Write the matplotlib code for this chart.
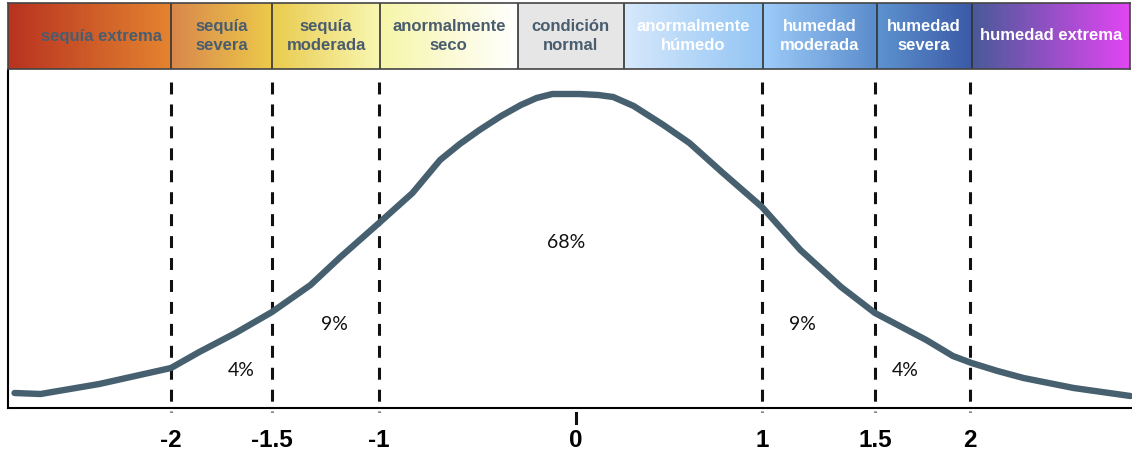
import numpy as np
import matplotlib
matplotlib.use('Agg')
import matplotlib.pyplot as plt
from matplotlib.colors import LinearSegmentedColormap

plt.rcParams['lines.scale_dashes'] = False

# data ###############################################################
thresholds = [-2, -1.5, -1, 1, 1.5, 2]
tick_vals = [-2, -1.5, -1, 0, 1, 1.5, 2]
tick_labels = ['-2', '-1.5', '-1', '0', '1', '1.5', '2']

# hand drawn distribution curve (SPI value, relative height)
curve_x = [-2.96, -2.80, -2.44, -2.00, -1.86, -1.68, -1.50, -1.32, -1.18, -1.00,
           -0.83, -0.69, -0.59, -0.49, -0.38, -0.28, -0.20, -0.12, 0.02, 0.12,
           0.20, 0.31, 0.47, 0.61, 0.79, 1.00, 1.17, 1.35, 1.50, 1.64,
           1.77, 1.91, 2.01, 2.17, 2.33, 2.64, 2.99]
curve_y = [15, 14, 24, 40, 56, 75, 96, 123, 151, 185,
           215, 248, 264, 278, 292, 303, 310, 314, 314, 313,
           311, 302, 283, 265, 235, 201, 158, 121, 95, 81,
           68, 52, 45, 37, 30, 20, 12]

# category header
cat_edges = [-3, -2, -1.5, -1, -0.3, 0.25, 1, 1.5, 2, 2.975]
cat_names = ['sequía extrema', 'sequía\nsevera', 'sequía\nmoderada', 'anormalmente\nseco',
             'condición\nnormal', 'anormalmente\nhúmedo', 'humedad\nmoderada',
             'humedad\nsevera', 'humedad extrema']
cat_colors = [('#b83220', '#e3832f'), ('#d9874b', '#ecc94a'), ('#e9cb4f', '#f8f6b0'),
              ('#f6f5a8', '#ffffff'), ('#e6e6e6', '#e6e6e6'), ('#d6e8fb', '#92c4f3'),
              ('#9ccbf8', '#5b8ccb'), ('#5d92cf', '#3b5aa6'), ('#485a98', '#e145f2')]
cat_text = ['#4a5d6e'] * 5 + ['white'] * 4

pct_labels = ['4%', '9%', '68%', '9%', '4%']
pct_x = [-1.65, -1.21, -0.05, 1.18, 1.66]
pct_y = [37, 83, 165, 83, 37]

# schematic, non-uniform spacing of the x axis
spi_knots = [-3, -2, -1.5, -1, 0, 1, 1.5, 2, 3]
pos_knots = [8, 171, 272, 379, 576, 762, 875, 970, 1132]


def fwd(x):
    return np.interp(x, spi_knots, pos_knots)


def inv(p):
    return np.interp(p, pos_knots, spi_knots)


W, H = 1132, 454
fig = plt.figure(figsize=(W / 100, H / 100), dpi=100)

# main plot ###########################################################
ax = fig.add_axes([8 / W, 46 / H, 1124 / W, 338 / H])
ax.set_xscale('function', functions=(fwd, inv))
ax.set_xlim(-3, 3)
ax.set_ylim(0, 338)
ax.plot(curve_x, curve_y, color='#46606f', lw=4.6, solid_capstyle='round',
        solid_joinstyle='round', zorder=3)
for t in thresholds:
    ax.plot([t, t], [326, -4], color='#111111', lw=2.2, dashes=(8.6, 7.2),
            clip_on=False, zorder=2)
ax.plot([0, 0], [-5, -15], color='#111111', lw=2.2, clip_on=False)

for lab, x, y in zip(pct_labels, pct_x, pct_y):
    ax.text(x, y, lab, ha='center', va='center', fontsize=14, family='Lato',
            color='#111111')

ax.set_xticks(tick_vals)
ax.set_xticklabels(tick_labels, fontsize=17.5, fontweight='bold', family='Liberation Sans')
ax.tick_params(axis='x', length=0, pad=15)
ax.set_yticks([])
ax.xaxis.set_minor_locator(matplotlib.ticker.NullLocator())
ax.spines['top'].set_visible(False)
ax.spines['right'].set_visible(False)
ax.spines['left'].set_linewidth(1.5)
ax.spines['bottom'].set_linewidth(1.5)

# header ##############################################################
hx = fig.add_axes([8 / W, 385 / H, 1122 / W, 66 / H])
hx.set_xscale('function', functions=(fwd, inv))
hx.set_xlim(cat_edges[0], cat_edges[-1])
hx.set_ylim(0, 1)
for i, name in enumerate(cat_names):
    a, b = cat_edges[i], cat_edges[i + 1]
    cmap = LinearSegmentedColormap.from_list('c%d' % i, list(cat_colors[i]))
    xe = np.linspace(a, b, 61)
    hx.pcolormesh(xe, [0, 1], np.linspace(0, 1, 60)[None, :], cmap=cmap,
                  shading='flat', vmin=0, vmax=1)
    xc = inv((fwd(a) + fwd(b)) / 2)
    if i == 0:
        xc = inv(fwd(a) + 93)
    hx.text(xc, 0.5, name, ha='center', va='center', fontsize=12, fontweight='bold',
            family='Liberation Sans', color=cat_text[i], linespacing=1.35)
hx.vlines(cat_edges[1:-1], 0, 1, color='#333333', lw=1.2)
hx.set_xticks([])
hx.set_yticks([])
hx.xaxis.set_minor_locator(matplotlib.ticker.NullLocator())
for s in hx.spines.values():
    s.set_color('#444444')
    s.set_linewidth(1.2)

fig.savefig('out.png', dpi=100)
